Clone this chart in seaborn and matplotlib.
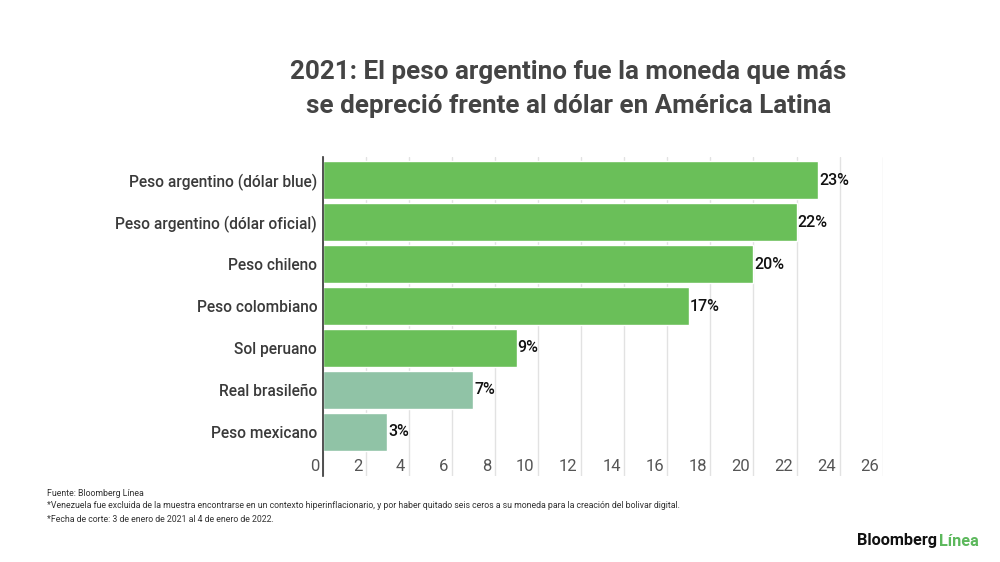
import seaborn as sns
import matplotlib.pyplot as plt
import matplotlib.transforms as mtransforms
import pandas as pd

# data
monedas = [
    "Peso argentino (dólar blue)",
    "Peso argentino (dólar oficial)",
    "Peso chileno",
    "Peso colombiano",
    "Sol peruano",
    "Real brasileño",
    "Peso mexicano",
]
depreciacion = [23, 22, 20, 17, 9, 7, 3]
etiquetas = ["23%", "22%", "20%", "17%", "9%", "7%", "3%"]
colores = ["#6abf59"] * 5 + ["#90c3a6"] * 2
x_ticks = list(range(0, 28, 2))

df = pd.DataFrame({"moneda": monedas, "valor": depreciacion})

sns.set_style("white")
plt.rcParams["font.family"] = ["Roboto", "DejaVu Sans"]

fig = plt.figure(figsize=(10, 5.62), dpi=100)
ax = fig.add_axes([0.3227, 0.153, 0.56, 0.5676])

sns.barplot(data=df, x="valor", y="moneda", hue="moneda", palette=colores,
            orient="h", width=0.9, legend=False, ax=ax, saturation=1)

for i, (v, t) in enumerate(zip(depreciacion, etiquetas)):
    ax.text(v + 0.05, i, t, va="center", ha="left", fontsize=11.5,
            color="#111111", fontweight="medium")

ax.set_xlim(0, 26)
ax.set_ylim(7.05, -0.55)
ax.set_xticks(x_ticks)
ax.set_xlabel("")
ax.set_ylabel("")
ax.grid(axis="x", color="#e2e2e2", linewidth=1)
ax.set_axisbelow(True)
for s in ["top", "right", "bottom"]:
    ax.spines[s].set_visible(False)
ax.spines["left"].set_color("#333333")
ax.spines["left"].set_linewidth(1.2)

ax.tick_params(axis="y", length=0, pad=4, labelsize=11.2, labelcolor="#3a3a3a")
for lab in ax.get_yticklabels():
    lab.set_fontweight("medium")
ax.tick_params(axis="x", length=0, pad=-12, labelsize=12, labelcolor="#555555")
off = mtransforms.ScaledTranslation(-0.035, 0, fig.dpi_scale_trans)
for lab in ax.get_xticklabels():
    lab.set_ha("right")
    lab.set_transform(lab.get_transform() + off)

fig.text(0.5685, 1 - 89 / 562, "2021: El peso argentino fue la moneda que más\nse depreció frente al dólar en América Latina",
         ha="center", va="center", fontsize=18.7, fontweight="bold", color="#444444",
         linespacing=1.55)

notas = ["Fuente: Bloomberg Línea",
         "*Venezuela fue excluida de la muestra encontrarse en un contexto hiperinflacionario, y por haber quitado seis ceros a su moneda para la creación del bolivar digital.",
         "*Fecha de corte: 3 de enero de 2021 al 4 de enero de 2022."]
for k, n in enumerate(notas):
    fig.text(0.047, 1 - (493 + 13 * k) / 562, n, ha="left", va="center",
             fontsize=6.3, color="#333333")

logo = fig.text(0.857, 1 - 541 / 562, "Bloomberg ", ha="left", va="center",
                fontsize=11.7, fontweight="bold", color="#111111")
fig.canvas.draw()
bb = logo.get_window_extent().transformed(fig.transFigure.inverted())
fig.text(bb.x1 - 0.002, 1 - 541 / 562, "Línea", ha="left", va="center",
         fontsize=11.7, fontweight="bold", color="#5cb85c")

fig.savefig("out.png", dpi=100, facecolor="white")
